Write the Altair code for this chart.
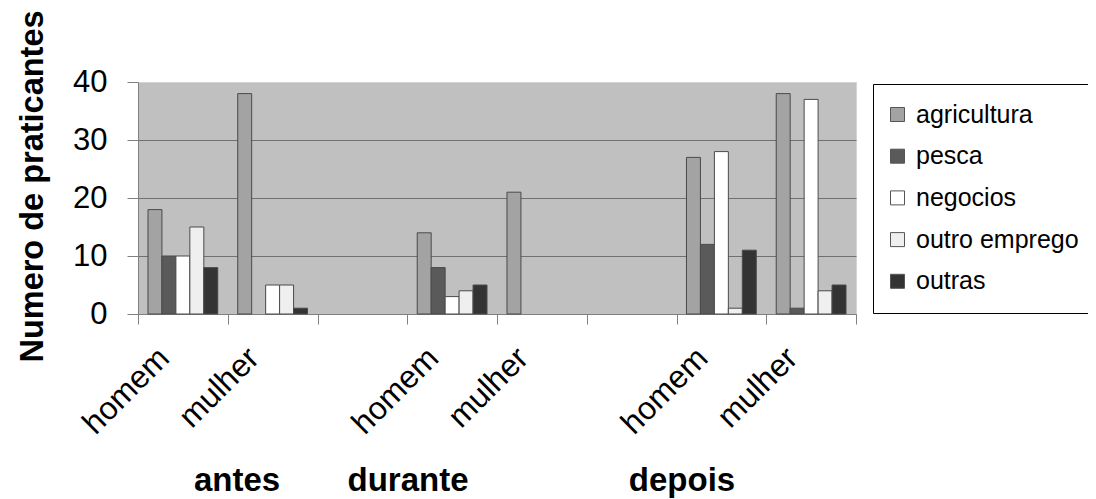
import altair as alt
import pandas as pd

# ---- data ----
slots = ["antes|homem", "antes|mulher", "gap1",
         "durante|homem", "durante|mulher", "gap2",
         "depois|homem", "depois|mulher"]
data_slots = ["antes|homem", "antes|mulher", "durante|homem",
              "durante|mulher", "depois|homem", "depois|mulher"]
activities = ["agricultura", "pesca", "negocios", "outro emprego", "outras"]
agricultura = [18, 38, 14, 21, 27, 38]
pesca = [10, 0, 8, 0, 12, 1]
negocios = [10, 5, 3, 0, 28, 37]
outro_emprego = [15, 5, 4, 0, 1, 4]
outras = [8, 1, 5, 0, 11, 5]
group_names = ["antes", "durante", "depois"]
colors = ["#a3a3a3", "#5a5a5a", "#ffffff", "#efefef", "#333333"]

series = [agricultura, pesca, negocios, outro_emprego, outras]
rows = []
for act, vals in zip(activities, series):
    for s, v in zip(data_slots, vals):
        if v > 0:
            rows.append({"slot": s, "activity": act, "value": v})
df = pd.DataFrame(rows)

FONT = "Liberation Sans, Arial"

grid_color = {"condition": {"test": "datum.value >= 40", "value": "#d4d4d4"},
              "value": "#707070"}

label_expr = ("isString(datum.value) && indexof(datum.value, '|') > 0 "
              "? split(datum.value, '|')[1] : ''")

bars = alt.Chart(df).mark_bar(stroke="#4a4a4a", strokeWidth=1).encode(
    x=alt.X("slot:N",
            scale=alt.Scale(domain=slots, paddingInner=0, paddingOuter=0),
            axis=alt.Axis(title=None, labelExpr=label_expr,
                          labelAngle=-45, labelFont=FONT, labelFontSize=32,
                          labelColor="black", labelPadding=18, labelOffset=-30,
                          labelAlign="right", labelBaseline="top",
                          tickBand="extent", tickSize=10, tickColor="#808080",
                          domainColor="#808080", grid=False, labelOverlap=False)),
    xOffset=alt.XOffset("activity:N",
                        scale=alt.Scale(domain=activities, paddingInner=0, paddingOuter=0.714)),
    y=alt.Y("value:Q",
            scale=alt.Scale(domain=[0, 40], nice=False),
            axis=alt.Axis(values=[0, 10, 20, 30, 40], title="Numero de praticantes",
                          titleFont=FONT, titleFontSize=32.5, titleFontWeight="bold",
                          titleColor="black", titleX=-96, titleY=104,
                          titleBaseline="alphabetic", titleAngle=270,
                          labelFont=FONT, labelFontSize=31, labelColor="black",
                          labelPadding=20, tickSize=11, tickColor="#808080",
                          domainColor="#808080", grid=True, gridColor=grid_color,
                          gridWidth=1)),
    color=alt.Color("activity:N",
                    scale=alt.Scale(domain=activities, range=colors),
                    legend=alt.Legend(title=None, orient="none", legendX=735, legendY=2,
                                      padding=18, strokeColor="black", fillColor="white",
                                      labelFont=FONT, labelFontSize=25, labelColor="black",
                                      labelLimit=400, symbolOffset=-6,
                                      symbolType="square", symbolSize=196,
                                      symbolStrokeColor="#555555", symbolStrokeWidth=1,
                                      rowPadding=15.7, labelOffset=6)),
)

layers = [bars]
for name, px in zip(group_names, [99, 270, 544]):
    layers.append(
        alt.Chart(pd.DataFrame({"t": [name]})).mark_text(
            font=FONT, fontSize=33, fontWeight="bold", color="black",
            align="center", baseline="alphabetic"
        ).encode(text="t:N", x=alt.value(px), y=alt.value(409))
    )

chart = alt.layer(*layers).properties(
    width=718, height=232,
    autosize=alt.AutoSizeParams(type="none"),
    padding={"left": 130, "top": 74, "right": 232, "bottom": 185},
).configure_view(fill="#c0c0c0", stroke="#d4d4d4")

chart.save("out.html", embed_options={"renderer": "svg", "actions": False})
